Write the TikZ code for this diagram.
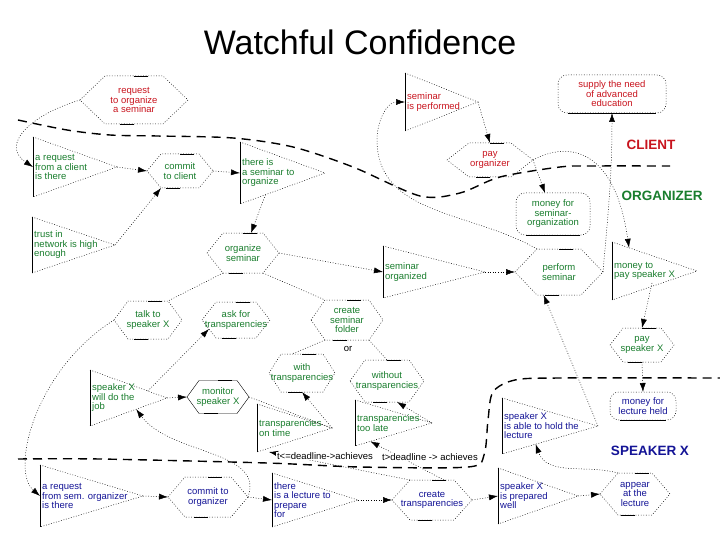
\documentclass[tikz,border=0pt]{standalone}
\usepackage{fontspec}
\setmainfont{Liberation Sans}
\usetikzlibrary{arrows.meta,calc}
\definecolor{vermelho}{RGB}{200,20,30}
\definecolor{verde}{RGB}{25,125,45}
\definecolor{azul}{RGB}{20,20,150}

% meta (hexagono): [estilo]{nome}{x}{y}{meia largura}{meia altura}{ponta}{cor}{texto}
\newcommand{\objetivo}[9][pont]{%
  \coordinate (#2-w) at (#3-#5,#4);
  \coordinate (#2-e) at (#3+#5,#4);
  \coordinate (#2-nw) at (#3-#5+#7,#4-#6);
  \coordinate (#2-ne) at (#3+#5-#7,#4-#6);
  \coordinate (#2-sw) at (#3-#5+#7,#4+#6);
  \coordinate (#2-se) at (#3+#5-#7,#4+#6);
  \coordinate (#2-n) at (#3,#4-#6);
  \coordinate (#2-s) at (#3,#4+#6);
  \draw[#1] (#2-w) -- (#2-nw) -- (#2-ne) -- (#2-e) -- (#2-se) -- (#2-sw) -- cycle;
  \draw (#2-n) -- ++(14,0) (#2-s) -- ++(-14,0);
  \node[txt, text=#8] (#2) at (#3,#4) {#9};
}
% estado (triangulo): {nome}{x}{y}{meia altura}{comprimento}{cor}{texto}
\newcommand{\estado}[7]{%
  \coordinate (#1-t) at (#2,#3-#4);
  \coordinate (#1-b) at (#2,#3+#4);
  \coordinate (#1-m) at (#2,#3);
  \coordinate (#1-p) at (#2+#5,#3);
  \draw[pont] (#1-t) -- (#1-p) -- (#1-b);
  \draw (#1-t) -- (#1-b);
  \node[txt, align=left, anchor=west, text=#6] (#1) at (#2+2,#3) {#7};
}
% recurso (retangulo arredondado): {nome}{x}{y}{meia largura}{meia altura}{cor}{texto}
\newcommand{\recurso}[7]{%
  \coordinate (#1-n) at (#2,#3-#5);
  \coordinate (#1-s) at (#2,#3+#5);
  \draw[pont, rounded corners=9pt] (#2-#4,#3-#5) rectangle (#2+#4,#3+#5);
  \draw (#2-#4+10,#3+#5) -- (#2+#4-10,#3+#5);
  \node[txt, text=#6] (#1) at (#2,#3) {#7};
}

\begin{document}
\begin{tikzpicture}[x=1pt, y=-1pt, >={Latex[length=9pt,width=6pt]},
    pont/.style={dash pattern=on 0.8pt off 1.8pt, line width=0.5pt},
    liga/.style={pont, ->},
    fronteira/.style={line width=1.4pt, dash pattern=on 9pt off 6pt},
    txt/.style={font=\fontsize{9.5}{9.5}\selectfont, align=center, inner sep=0pt},
    ator/.style={font=\fontsize{13.5}{14}\selectfont\bfseries}]
\useasboundingbox (0,0) rectangle (720,540);
% Titulo
\node[font=\fontsize{34}{34}\selectfont] (titulo) at (360,42) {Watchful Confidence};
% Fronteiras entre atores
\draw[fronteira] plot[smooth] coordinates {(18,120) (67,130) (110,135) (157,136) (233,138) (293,147) (353,167) (420,196) (460,193) (500,177) (560,167) (593,166) (670,166)};
\draw[fronteira] plot[smooth, tension=0.5] coordinates {(18,459) (100,459) (267,463) (360,467) (468,467) (484,455) (488,420) (493,392) (515,380) (560,378) (720,378)};
\node[ator, text=vermelho] (lcli) at (651,145) {CLIENT};
\node[ator, text=verde] (lorg) at (662,196) {ORGANIZER};
\node[ator, text=azul] (lspk) at (650,451) {SPEAKER X};
% Cliente
\objetivo{gReq}{134}{100}{54}{24}{25}{vermelho}{request\\to organize\\a seminar}
\estado{sPerf}{405}{102}{29}{73}{vermelho}{seminar\\is performed}
\objetivo{gPayOrg}{490}{160}{43}{17}{22}{vermelho}{pay\\organizer}
\recurso{rSupply}{612}{94}{54}{19}{vermelho}{supply the need\\of advanced\\education}
% Organizador
\estado{sReqCli}{33}{167}{30}{84}{verde}{a request\\from a client\\is there}
\objetivo{gComCli}{180}{171}{33}{17}{14}{verde}{commit\\to client}
\estado{sThere}{240}{173}{31}{85}{verde}{there is\\a seminar to\\organize}
\estado{sTrust}{32}{245}{28}{83}{verde}{trust in\\network is high\\enough}
\objetivo{gOrgSem}{243}{253}{36}{20}{16}{verde}{organize\\seminar}
\estado{sSemOrg}{383}{272}{26}{102}{verde}{seminar\\organized}
\recurso{rMoneySem}{553}{214}{37}{21}{verde}{money for\\seminar-\\organization}
\objetivo{gPerf}{559}{272}{44}{23}{22}{verde}{perform\\seminar}
\estado{sMoney}{612}{271}{29}{85}{verde}{money to\\pay speaker X}
\objetivo{gTalk}{148}{320}{34}{19}{14}{verde}{talk to\\speaker X}
\objetivo{gAsk}{236}{320}{34}{18}{14}{verde}{ask for\\transparencies}
\objetivo{gFolder}{347}{320}{36}{20}{14}{verde}{create\\seminar\\folder}
\node[txt] (ou) at (348,349) {or};
\objetivo{gWith}{302}{373}{33}{19}{12}{verde}{with\\transparencies}
\objetivo{gWithout}{387}{381}{37}{21}{15}{verde}{without\\transparencies}
\objetivo[solid]{gMon}{218}{397}{31}{16.5}{12}{verde}{monitor\\speaker X}
\estado{sWill}{90}{398}{28}{77}{verde}{speaker X\\will do the\\job}
\estado{sOnTime}{257}{428}{24}{75}{verde}{transparencies\\on time}
\estado{sLate}{355}{423}{23}{77}{verde}{transparencies\\too late}
\objetivo{gPaySpk}{642}{345}{32}{17}{13}{verde}{pay\\speaker X}
% Orador
\recurso{rLect}{643}{406}{33}{14}{azul}{money for\\lecture held}
\estado{sAble}{502}{426}{28}{96}{azul}{speaker X\\is able to hold the\\lecture}
\estado{sReqOrg}{40}{496}{31}{103}{azul}{a request\\from sem. organizer\\is there}
\objetivo{gComOrg}{208}{497}{40}{20}{17}{azul}{commit to\\organizer}
\estado{sLecture}{272}{500}{27}{86}{azul}{there\\is a lecture to\\prepare\\for}
\objetivo{gCreTr}{432}{500}{40}{20}{18}{azul}{create\\transparencies}
\estado{sPrep}{498}{496}{28}{80}{azul}{speaker X\\is prepared\\well}
\objetivo{gAppear}{635}{494}{35}{21}{18}{azul}{appear\\at the\\lecture}
% Ligacoes do cliente
\draw[liga] (gReq-w) .. controls (30,115) and (0,145) .. (sReqCli-m);
\draw[liga] (gPerf-nw) to[out=150,in=-90] (377,140) to[out=90,in=180] (sPerf-m);
\draw[liga] (sPerf-p) -- (gPayOrg-n);
\draw[liga] (gPayOrg-e) -- ([xshift=-8pt]rMoneySem-n);
\draw[liga] (gPayOrg-e) .. controls (570,140) and (615,150) .. ($(sMoney-t)!0.2!(sMoney-p)$);
\draw[liga] (gPerf-e) to[out=85,in=-90] (rSupply-s);
% Ligacoes do organizador
\draw[liga] (sReqCli-p) -- (gComCli-w);
\draw[liga] (sTrust-p) -- (gComCli-sw);
\draw[liga] (gComCli-e) -- (sThere-m);
\draw[liga] ($(sThere-b)!0.3!(sThere-p)$) -- ([xshift=8pt]gOrgSem-n);
\draw[liga] (gOrgSem-e) -- (sSemOrg-m);
\draw[pont] (gOrgSem-sw) -- (gTalk-ne);
\draw[pont] (gOrgSem-se) -- (gFolder-nw);
\draw[pont] (gFolder-sw) -- ([xshift=-10pt]gWith-n);
\draw[pont] (gFolder-se) -- (gWithout-n);
\draw[liga] (gTalk-w) .. controls (35,370) and (10,470) .. (sReqOrg-m);
\draw[liga] ($(sWill-t)!0.75!(sWill-p)$) -- ($(gAsk-w)!0.5!(gAsk-sw)$);
\draw[liga] (sWill-p) -- (gMon-w);
\draw[pont] (gMon-e) -- (sOnTime-p);
\draw[liga] (sOnTime-p) -- (gWith-s);
\draw[liga] (sLate-p) -- ([xshift=10pt]gWithout-s);
\draw[liga] (sSemOrg-p) -- (gPerf-w);
\draw[liga] (sMoney-p) ++(-45,12) -- (gPaySpk-n);
\draw[liga] (gPaySpk-s) -- (rLect-n);
\draw[liga] (sAble-p) -- ($(gPerf-sw)!0.3!(gPerf-s)$);
% Ligacoes do orador
\draw[liga] (sReqOrg-p) -- (gComOrg-w);
\draw[liga] (gComOrg-e) -- (sLecture-m);
\draw[liga] (sLecture-p) -- (gCreTr-w);
\draw[liga] (gCreTr-e) -- (sPrep-m);
\draw[liga] (sPrep-p) -- (gAppear-w);
\draw[liga] (gAppear-nw) to[out=165,in=-70] ($(sAble-b)!0.35!(sAble-p)$);
\draw[liga] (gComOrg-e) .. controls (265,450) and (170,455) .. ($(sWill-b)!0.6!(sWill-p)$);
% Prazo das transparencias
\draw[liga] (gCreTr-nw) -- ([xshift=12pt]sOnTime-b);
\draw[liga] ([xshift=12pt]gCreTr-n) -- ($(sLate-b)!0.2!(sLate-p)$);
\node[txt, fill=white, inner sep=1pt] (tle) at (325,456) {t<=deadline->achieves};
\node[txt, fill=white, inner sep=1pt] (tgt) at (430,457) {t>deadline -> achieves};
\end{tikzpicture}
\end{document}
